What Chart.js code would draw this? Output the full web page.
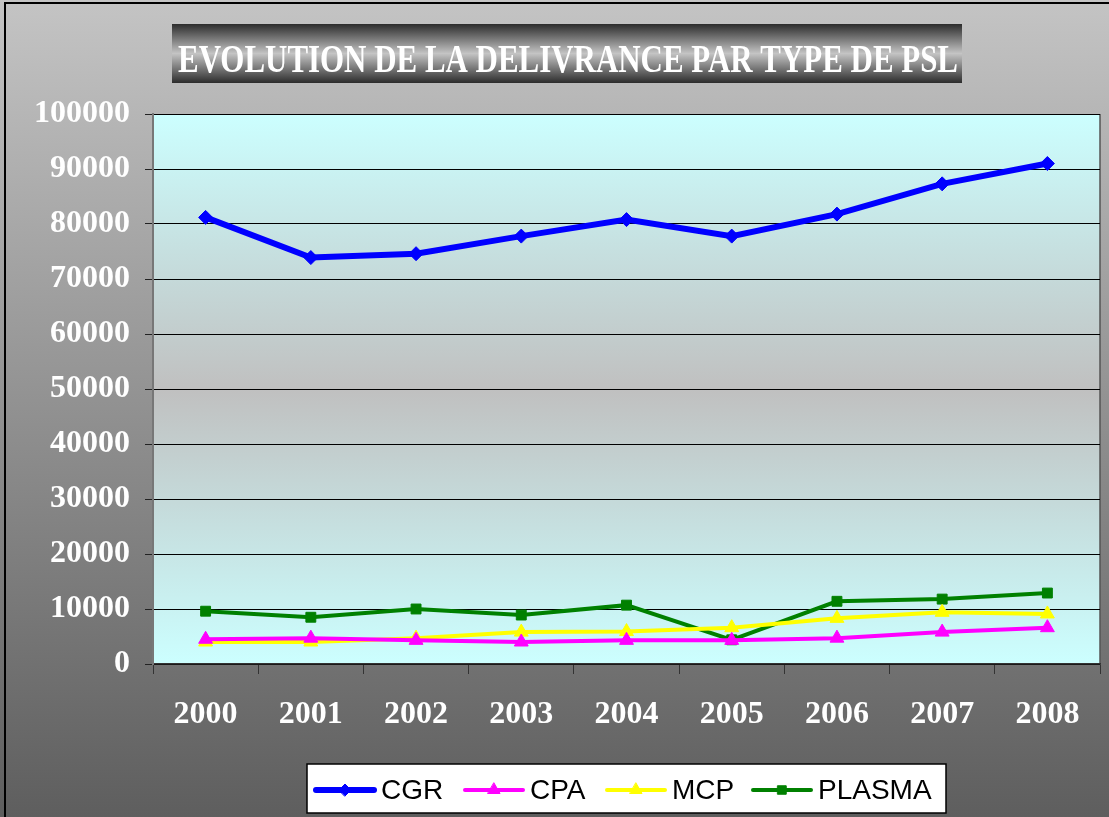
<!DOCTYPE html>
<html>
<head>
<meta charset="utf-8">
<title>Evolution de la delivrance par type de PSL</title>
<script src="https://cdn.jsdelivr.net/npm/chart.js@4.4.1/dist/chart.umd.min.js"></script>
<style>
  html, body { margin: 0; padding: 0; background: #fff; }
  #wrap { width: 1109px; height: 817px; }
</style>
</head>
<body>
<div id="wrap"><canvas id="pslChart" width="1109" height="817"></canvas></div>
<script>
// values
var years = ['2000', '2001', '2002', '2003', '2004', '2005', '2006', '2007', '2008'];
var cgr = [81200, 73900, 74600, 77800, 80800, 77800, 81800, 87300, 91000];
var cpa = [4500, 4700, 4300, 4000, 4300, 4300, 4700, 5800, 6600];
var mcp = [4000, 4000, 4700, 5800, 5900, 6600, 8300, 9400, 9100];
var plasma = [9600, 8500, 10000, 8900, 10700, 4400, 11400, 11800, 12900];
var yTicks = [0, 10000, 20000, 30000, 40000, 50000, 60000, 70000, 80000, 90000, 100000];
var titleText = 'EVOLUTION DE LA DELIVRANCE PAR TYPE DE PSL';

var serif = '"Liberation Serif", "Times New Roman", serif';
var sans = '"Liberation Sans", Arial, sans-serif';

// backgrounds, frame, title box and legend box
var decor = {
	id: 'decor',
	beforeDraw: function(chart) {
		var ctx = chart.ctx, w = chart.width, h = chart.height;
		ctx.save();
		var g = ctx.createLinearGradient(0, 0, 0, h);
		g.addColorStop(0, '#c4c4c4');
		g.addColorStop(1, '#5e5e5e');
		ctx.fillStyle = g;
		ctx.fillRect(0, 0, w, h);

		ctx.strokeStyle = '#000';
		ctx.lineWidth = 2;
		ctx.beginPath();
		ctx.moveTo(5, h);
		ctx.lineTo(5, 3);
		ctx.lineTo(w, 3);
		ctx.stroke();

		// title box
		var tx = 172, ty = 24, tw = 790, th = 59;
		var tg = ctx.createLinearGradient(0, ty, 0, ty + th);
		tg.addColorStop(0, '#2c2c2c');
		tg.addColorStop(0.5, '#c4c4c4');
		tg.addColorStop(1, '#2c2c2c');
		ctx.fillStyle = tg;
		ctx.fillRect(tx, ty, tw, th);

		// the original title is a condensed bold serif, squeeze it to fit
		ctx.font = 'bold 40px ' + serif;
		ctx.fillStyle = '#fff';
		ctx.textBaseline = 'alphabetic';
		ctx.textAlign = 'left';
		var tm = ctx.measureText(titleText).width;
		ctx.translate(178, 72);
		ctx.scale(780 / tm, 1);
		ctx.fillText(titleText, 0, 0);
		ctx.restore();

		// plot area
		var a = chart.chartArea;
		ctx.save();
		var pg = ctx.createLinearGradient(0, a.top, 0, a.bottom);
		pg.addColorStop(0, '#ccffff');
		pg.addColorStop(0.5, '#c0c0c0');
		pg.addColorStop(1, '#ccffff');
		ctx.fillStyle = pg;
		ctx.fillRect(a.left, a.top, a.right - a.left, a.bottom - a.top);
		ctx.strokeStyle = '#555';
		ctx.lineWidth = 1.5;
		ctx.beginPath();
		ctx.moveTo(a.right, a.top);
		ctx.lineTo(a.right, a.bottom);
		ctx.stroke();
		ctx.restore();
	},
	afterDraw: function(chart) {
		var ctx = chart.ctx;
		ctx.save();
		ctx.fillStyle = '#fff';
		ctx.fillRect(307, 764, 639, 49);
		ctx.strokeStyle = '#000';
		ctx.lineWidth = 1.5;
		ctx.strokeRect(307, 764, 639, 49);

		var lineX = [316, 465, 607, 753];
		var cy = 790;
		ctx.font = '28px ' + sans;
		ctx.textBaseline = 'middle';
		chart.data.datasets.forEach(function(ds, i) {
			var x0 = lineX[i], x1 = x0 + 58;
			ctx.strokeStyle = ds.borderColor;
			ctx.lineWidth = ds.borderWidth;
			ctx.lineCap = 'round';
			ctx.beginPath();
			ctx.moveTo(x0, cy);
			ctx.lineTo(x1, cy);
			ctx.stroke();
			ctx.fillStyle = ds.backgroundColor;
			ctx.lineWidth = 1;
			Chart.helpers.drawPoint(ctx, {
				pointStyle: ds.pointStyle,
				radius: ds.pointRadius - 1,
				rotation: 0,
				borderWidth: 1
			}, (x0 + x1) / 2, cy);
			ctx.fillStyle = '#000';
			ctx.fillText(ds.label, x1 + 7, cy + 1);
		});
		ctx.restore();
	}
};

var ctx = document.getElementById('pslChart');
var chart = new Chart(ctx, {
	type: 'line',
	data: {
		labels: years,
		datasets: [{
			label: 'CGR',
			data: cgr,
			borderColor: '#0000ff',
			backgroundColor: '#0000ff',
			borderWidth: 6,
			pointStyle: 'rectRot',
			pointRadius: 7,
			pointBorderWidth: 1
		}, {
			label: 'CPA',
			data: cpa,
			borderColor: '#ff00ff',
			backgroundColor: '#ff00ff',
			borderWidth: 4,
			pointStyle: 'triangle',
			pointRadius: 8,
			pointBorderWidth: 1
		}, {
			label: 'MCP',
			data: mcp,
			borderColor: '#ffff00',
			backgroundColor: '#ffff00',
			borderWidth: 4,
			pointStyle: 'triangle',
			pointRadius: 8,
			pointBorderWidth: 1
		}, {
			label: 'PLASMA',
			data: plasma,
			borderColor: '#008000',
			backgroundColor: '#008000',
			borderWidth: 4,
			pointStyle: 'rect',
			pointRadius: 7,
			pointBorderWidth: 1
		}]
	},
	options: {
		responsive: false,
		devicePixelRatio: 1,
		animation: false,
		layout: {
			padding: { left: 0, right: 4, top: 114, bottom: 53 }
		},
		plugins: {
			legend: { display: false },
			title: { display: false },
			tooltip: { enabled: false }
		},
		scales: {
			x: {
				offset: true,
				grid: {
					offset: true,
					drawOnChartArea: false,
					drawTicks: true,
					tickLength: 10,
					color: '#333'
				},
				border: { display: true, color: '#333', width: 1.5 },
				ticks: {
					color: '#fff',
					padding: 22,
					maxRotation: 0,
					font: { family: serif, size: 32, weight: 'bold' }
				},
				afterFit: function(scale) { scale.height = 100; }
			},
			y: {
				min: 0,
				max: 100000,
				afterBuildTicks: function(scale) {
					scale.ticks = yTicks.map(function(v) { return { value: v }; });
				},
				grid: {
					color: '#000',
					lineWidth: 1,
					drawTicks: true,
					tickLength: 8,
					tickColor: '#222'
				},
				border: { display: true, color: '#777', width: 2 },
				ticks: {
					color: '#fff',
					padding: 15,
					font: { family: serif, size: 32, weight: 'bold' },
					callback: function(v) { return String(v); }
				},
				afterFit: function(scale) { scale.width = 153; }
			}
		}
	},
	plugins: [decor]
});
</script>
</body>
</html>
